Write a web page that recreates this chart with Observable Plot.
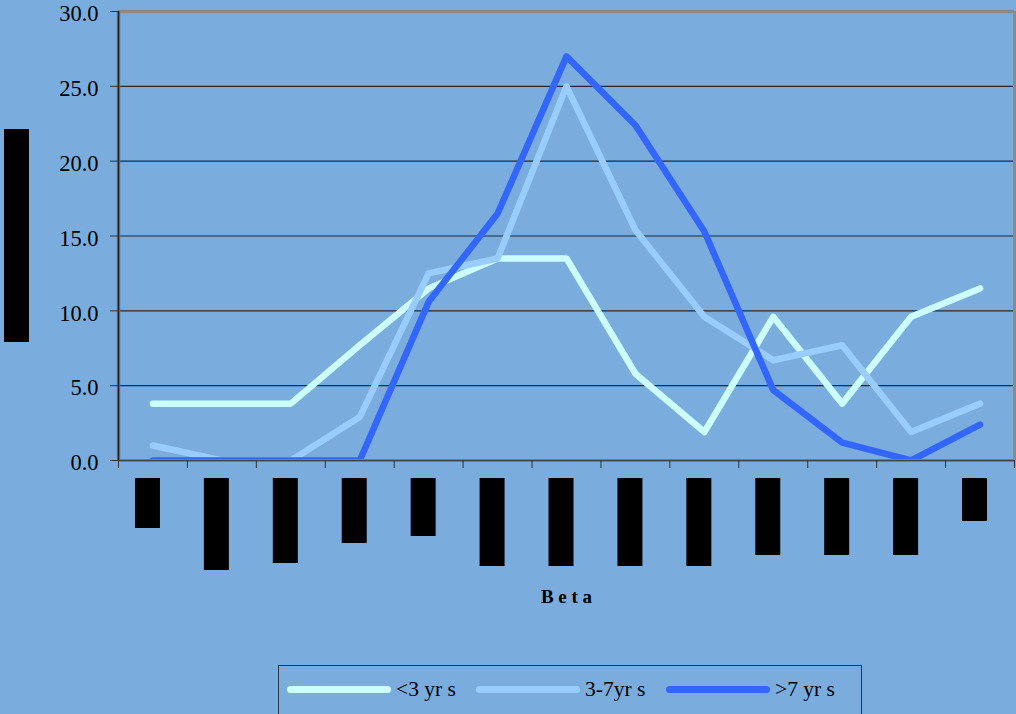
<!DOCTYPE html>
<html>
<head>
<meta charset="utf-8">
<script src="https://cdn.jsdelivr.net/npm/d3@7"></script>
<script src="https://cdn.jsdelivr.net/npm/@observablehq/plot@0.6"></script>
<style>
  html, body { margin: 0; padding: 0; background: #7AADDE; overflow: hidden; }
  #chart { position: relative; width: 1016px; height: 714px; }
  .legend {
    position: absolute; left: 278px; top: 665px; width: 584px; height: 60px;
    border: 1.5px solid #2b3440; box-sizing: border-box;
  }
  .legend .item {
    position: absolute; top: 11px; display: flex; align-items: center;
    font-family: "Liberation Serif", serif; font-size: 21.5px; color: #000; white-space: pre;
  }
  .legend .swatch { width: 104px; height: 7px; border-radius: 4px; margin-right: 5px; }
</style>
</head>
<body>
<div id="chart"></div>
<script>
// Thirteen Beta bins along the x axis (their labels are blacked out)
const categories = d3.range(1, 14);

// Percentage of each age group per Beta bin
const under3   = [3.8, 3.8, 3.8, 7.7, 11.5, 13.5, 13.5, 5.8, 1.9, 9.6, 3.8, 9.6, 11.5];
const from3to7 = [1.0, 0.0, 0.0, 2.9, 12.5, 13.5, 25.0, 15.4, 9.6, 6.7, 7.7, 1.9, 3.8];
const over7    = [0.0, 0.0, 0.0, 0.0, 10.6, 16.5, 27.0, 22.4, 15.3, 4.7, 1.2, 0.0, 2.4];

const seriesNames  = ["<3 yr s", "3-7yr s", ">7 yr s"];
const seriesValues = [under3, from3to7, over7];
const seriesColors = ["#CCFFFF", "#99CCFF", "#3366FF"];

const yTicks = [0, 5, 10, 15, 20, 25, 30];
const xTitle = "B e t a";

// Lengths of the blacked-out category labels and axis title
const redactedTickLabelLength = [50, 92, 85, 65, 58, 88, 88, 88, 88, 77, 77, 77, 43];
const redactedYTitleLength = 213;

const W = 1016, H = 650;
const M = {left: 118, right: 2, top: 11, bottom: 190};

const rows = seriesNames.map((name, k) =>
  categories.map((c, i) => ({pos: i + 0.5, value: seriesValues[k][i], series: name}))
);

// Black boxes covering the hidden labels
function redactions(index, scales, values, dimensions) {
  const g = d3.create("svg:g");
  const y0 = dimensions.height - dimensions.marginBottom;
  categories.forEach((c, i) => {
    g.append("rect")
      .attr("x", scales.x(i + 0.5) - 17.5)
      .attr("y", y0 + 18)
      .attr("width", 25)
      .attr("height", redactedTickLabelLength[i])
      .attr("fill", "#000");
  });
  const midY = (dimensions.marginTop + dimensions.height - dimensions.marginBottom) / 2;
  g.append("rect")
    .attr("x", 4)
    .attr("y", midY - redactedYTitleLength / 2)
    .attr("width", 25)
    .attr("height", redactedYTitleLength)
    .attr("fill", "#000");
  return g.node();
}

const chart = Plot.plot({
  width: W,
  height: H,
  marginLeft: M.left,
  marginRight: M.right,
  marginTop: M.top,
  marginBottom: M.bottom,
  style: {background: "transparent", fontFamily: "'Liberation Serif', serif", color: "#000", overflow: "visible"},
  x: {type: "linear", domain: [0, categories.length]},
  y: {domain: [0, 30]},
  marks: [
    // gridlines
    Plot.ruleY(yTicks.filter(d => d > 0 && d < 30), {stroke: "#1d2a3a", strokeWidth: 1.2}),
    // plot border (top and right)
    Plot.ruleY([30], {stroke: "#8a8a8a", strokeWidth: 3.5}),
    Plot.ruleX([categories.length], {stroke: "#8a8a8a", strokeWidth: 3}),
    // series
    ...rows.map((data, k) => Plot.line(data, {
      x: "pos", y: "value",
      stroke: seriesColors[k], strokeWidth: 6.5,
      strokeLinejoin: "round", strokeLinecap: "round",
      clip: true
    })),
    // axis lines
    Plot.ruleY([0], {stroke: "#7a7a7a", strokeWidth: 3}),
    Plot.ruleY([0], {stroke: "#444", strokeWidth: 1}),
    Plot.ruleX([0], {stroke: "#7a7a7a", strokeWidth: 3.5}),
    Plot.ruleX([0], {stroke: "#222", strokeWidth: 1.5}),
    // y ticks and their labels
    Plot.axisY({
      ticks: yTicks, tickSize: 8, tickFormat: () => "", label: null, stroke: "#333"
    }),
    Plot.text(yTicks, {
      y: d => d, text: d => d.toFixed(1), frameAnchor: "left",
      textAnchor: "end", dx: -20, dy: 2.5,
      fontSize: 22.5, letterSpacing: "1.5px", fill: "#000"
    }),
    Plot.axisX({
      ticks: d3.range(categories.length + 1), tickSize: 8,
      tickFormat: () => "", label: null, stroke: "#333"
    }),
    Plot.text([xTitle], {
      frameAnchor: "bottom", dy: 142, text: d => d,
      fontSize: 19, fontWeight: "bold", fill: "#000",
      letterSpacing: "2.6px"
    }),
    redactions
  ]
});

const root = document.getElementById("chart");
root.appendChild(chart);

// Legend
const legend = document.createElement("div");
legend.className = "legend";
const offsets = [8, 197, 387];
seriesNames.forEach((name, k) => {
  const item = document.createElement("div");
  item.className = "item";
  item.style.left = offsets[k] + "px";
  const sw = document.createElement("span");
  sw.className = "swatch";
  sw.style.background = seriesColors[k];
  const label = document.createElement("span");
  label.textContent = name;
  item.appendChild(sw);
  item.appendChild(label);
  legend.appendChild(item);
});
root.appendChild(legend);
</script>
</body>
</html>
